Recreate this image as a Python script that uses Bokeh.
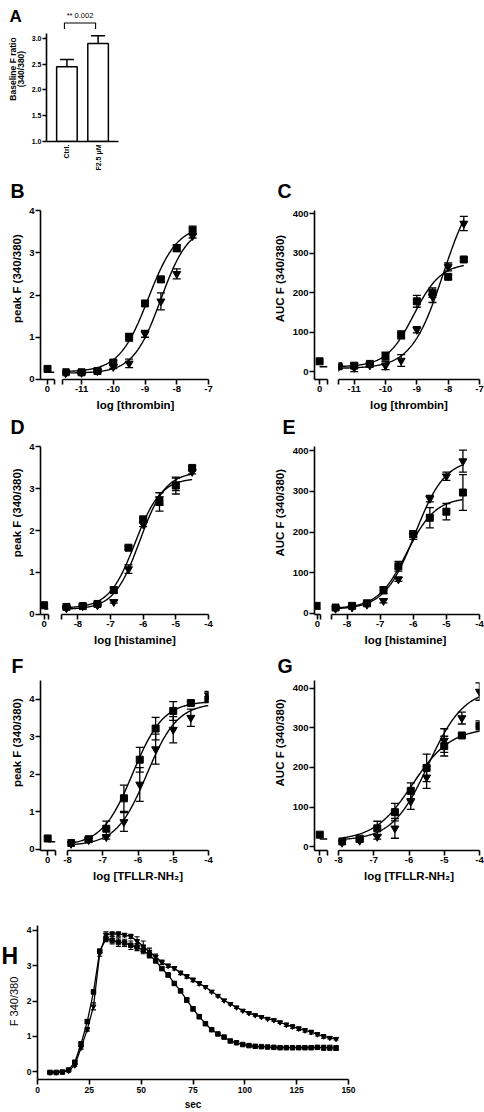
import numpy as np
from bokeh.plotting import figure
from bokeh.layouts import column, row
from bokeh.models import ColumnDataSource, Whisker, TeeHead, Label, FixedTicker, Range1d
from bokeh.core.properties import value
from bokeh.embed import file_html
from bokeh.resources import INLINE

FONT = "Liberation Sans"

# ======================= DATA =======================
# Panel A: baseline ratio
a_categories = ["Ctrl.", "F2.5 μM"]
a_values = [2.45, 2.90]
a_errors = [0.14, 0.15]
a_yticks = [1.0, 1.5, 2.0, 2.5, 3.0]
a_sig_text = "** 0.002"

# Thrombin (B: peak, C: AUC)
thrombin_logc = [-11.5, -11.0, -10.5, -10.0, -9.5, -9.0, -8.5, -8.0, -7.5]
b_sq = [0.17, 0.17, 0.20, 0.40, 1.00, 1.80, 2.37, 3.11, 3.53]
b_sq_err = [0.04, 0.03, 0.03, 0.05, 0.09, 0.06, 0.07, 0.08, 0.10]
b_tri = [0.15, 0.16, 0.20, 0.30, 0.38, 1.08, 1.85, 2.50, 3.40]
b_tri_err = [0.03, 0.03, 0.03, 0.04, 0.10, 0.08, 0.20, 0.12, 0.05]
b_zero_sq, b_zero_tri = 0.25, 0.17
b_fit_sq = [0.18, 3.65, -8.9, 0.95]      # bottom, top, logEC50, hill
b_fit_tri = [0.15, 3.65, -8.5, 1.0]

c_sq = [13.6, 15, 19.5, 39, 93, 178, 200, 240, 284]
c_sq_err = [5, 6, 3, 10, 10, 15, 12, 5, 4]
c_tri = [12, 10, 16, 15, 28, 106, 190, 265, 375]
c_tri_err = [5, 10, 3, 10, 15, 8, 15, 10, 18]
c_zero_sq, c_zero_tri = 26, 12
c_fit_sq = [12, 275, -9.1, 1.0]
c_fit_tri = [8, 490, -8.15, 0.85]

# Histamine (D: peak, E: AUC)
histamine_logc = [-8.35, -7.85, -7.4, -6.9, -6.45, -6.0, -5.5, -5.0, -4.5]
d_sq = [0.18, 0.20, 0.25, 0.58, 1.59, 2.26, 2.68, 3.07, 3.49]
d_sq_err = [0.02, 0.02, 0.03, 0.07, 0.04, 0.08, 0.22, 0.20, 0.05]
d_tri = [0.15, 0.20, 0.22, 0.30, 1.08, 2.15, 2.75, 3.10, 3.40]
d_tri_err = [0.02, 0.02, 0.02, 0.03, 0.10, 0.06, 0.15, 0.15, 0.05]
d_zero_sq, d_zero_tri = 0.22, 0.13
d_fit_sq = [0.15, 3.25, -6.25, 1.1]
d_fit_tri = [0.12, 3.40, -6.1, 1.1]

e_sq = [14.6, 18.7, 25, 57, 116, 195, 235, 250, 297]
e_sq_err = [3, 3, 3, 8, 12, 8, 25, 20, 44]
e_tri = [12, 15, 22, 31, 84, 190, 282, 337, 374]
e_tri_err = [3, 3, 3, 5, 5, 8, 8, 10, 27]
e_zero_sq, e_zero_tri = 18.7, 12
e_fit_sq = [12, 285, -6.2, 1.0]
e_fit_tri = [10, 380, -5.95, 0.95]

# TFLLR-NH2 (F: peak, G: AUC)
tfllr_logc = [-7.9, -7.4, -6.9, -6.4, -5.95, -5.5, -5.0, -4.5, -4.0]
f_sq = [0.17, 0.27, 0.55, 1.36, 2.39, 3.22, 3.69, 3.90, 4.00]
f_sq_err = [0.03, 0.05, 0.20, 0.35, 0.33, 0.30, 0.25, 0.05, 0.07]
f_tri = [0.15, 0.25, 0.33, 0.73, 1.73, 2.67, 3.19, 3.51, 4.11]
f_tri_err = [0.03, 0.04, 0.06, 0.25, 0.45, 0.40, 0.35, 0.23, 0.10]
f_zero_sq, f_zero_tri = 0.29, 0.20
f_fit_sq = [0.10, 3.95, -6.15, 1.0]
f_fit_tri = [0.10, 3.90, -5.75, 1.0]

g_sq = [13, 20, 46, 87, 141, 199, 254, 281, 305]
g_sq_err = [4, 5, 18, 22, 20, 35, 25, 4, 13]
g_tri = [10, 15, 25, 46, 114, 175, 268, 325, 392]
g_tri_err = [4, 4, 6, 25, 20, 28, 30, 15, 22]
g_zero_sq, g_zero_tri = 30, 19
g_fit_sq = [15, 300, -5.9, 0.8]
g_fit_tri = [15, 400, -5.45, 0.85]

# Panel H: time course
h_time = [6, 9, 12, 15, 18, 21, 24, 27, 30, 33,
          36, 39, 42, 45, 48, 51, 54, 57, 60, 63,
          66, 69, 72, 75, 78, 81, 84, 87, 90, 93,
          96, 99, 102, 105, 108, 111, 114, 117, 120, 123,
          126, 129, 132, 135, 138, 141, 144]
h_sq = [-0.02, -0.02, -0.01, 0.05, 0.27, 0.79, 1.42, 2.26, 3.41, 3.76,
        3.72, 3.67, 3.65, 3.58, 3.53, 3.44, 3.30, 3.14, 2.92, 2.74,
        2.50, 2.29, 2.03, 1.78, 1.56, 1.36, 1.19, 1.07, 0.98, 0.87,
        0.82, 0.77, 0.74, 0.72, 0.71, 0.70, 0.69, 0.68, 0.68, 0.68,
        0.68, 0.68, 0.68, 0.69, 0.68, 0.68, 0.67]
h_sq_err = [0.02, 0.02, 0.02, 0.02, 0.03, 0.04, 0.05, 0.05, 0.06, 0.08,
            0.10, 0.12, 0.10, 0.12, 0.10, 0.10, 0.08, 0.06, 0.05, 0.05,
            0.05, 0.05, 0.06, 0.06, 0.06, 0.05, 0.04, 0.03, 0.03, 0.03,
            0.03, 0.03, 0.03, 0.03, 0.03, 0.03, 0.03, 0.03, 0.03, 0.03,
            0.03, 0.03, 0.03, 0.04, 0.07, 0.07, 0.07]
h_tri = [-0.02, -0.02, 0.00, 0.03, 0.18, 0.68, 1.20, 1.85, 3.35, 3.88,
         3.90, 3.90, 3.87, 3.83, 3.70, 3.55, 3.40, 3.25, 3.10, 3.00,
         2.93, 2.80, 2.70, 2.60, 2.50, 2.40, 2.27, 2.15, 2.02, 1.92,
         1.82, 1.73, 1.66, 1.60, 1.55, 1.50, 1.46, 1.40, 1.33, 1.28,
         1.22, 1.17, 1.12, 1.06, 1.00, 0.96, 0.93]
h_tri_err = [0.02, 0.02, 0.02, 0.02, 0.03, 0.04, 0.05, 0.10, 0.08, 0.08,
             0.06, 0.06, 0.05, 0.06, 0.12, 0.15, 0.10, 0.08, 0.06, 0.05,
             0.05, 0.05, 0.05, 0.05, 0.05, 0.03, 0.03, 0.03, 0.03, 0.03,
             0.03, 0.03, 0.03, 0.03, 0.03, 0.03, 0.03, 0.03, 0.05, 0.05,
             0.05, 0.05, 0.05, 0.05, 0.05, 0.03, 0.03]
h_xticks = [0, 25, 50, 75, 100, 125, 150]
h_yticks = [0, 1, 2, 3, 4]

EPS = 1e-3
TICK_SIZE = "9.5px"


# ======================= HELPERS =======================
def logistic(x, p):
    bottom, top, logec50, hill = p
    return bottom + (top - bottom) / (1 + 10 ** ((logec50 - x) * hill))


def style_axis(ax, size=TICK_SIZE, tick_out=5):
    ax.axis_line_width = 1.6
    ax.axis_line_color = "black"
    ax.major_tick_line_width = 1.6
    ax.major_tick_line_color = "black"
    ax.major_tick_in = 0
    ax.major_tick_out = tick_out
    ax.minor_tick_line_color = None
    ax.major_label_text_font = FONT
    ax.major_label_text_font_style = "bold"
    ax.major_label_text_font_size = size
    ax.major_label_text_color = "black"
    ax.major_label_standoff = 1
    ax.axis_label_text_font = FONT
    ax.axis_label_text_font_style = "bold"
    ax.axis_label_text_font_size = "11.5px"
    ax.axis_label_text_color = "black"
    ax.axis_label_standoff = 4


def clean(p):
    p.outline_line_color = None
    p.grid.visible = False
    p.background_fill_color = "white"
    p.border_fill_color = "white"
    return p


def base_fig(width, height, xr, yr, borders, y_axis=True, size=TICK_SIZE, tick_out=5):
    bl, br, bt, bb = borders
    p = figure(width=width, height=height, x_range=xr, y_range=yr,
               output_backend="svg", toolbar_location=None, title=None,
               y_axis_location="left" if y_axis else None,
               min_border_left=bl, min_border_right=br,
               min_border_top=bt, min_border_bottom=bb)
    clean(p)
    for ax in p.axis:
        style_axis(ax, size, tick_out)
    return p


def text_fig(x0, x1, y0, h, items):
    """A blank strip (page-pixel coordinates) that carries panel letters / axis titles."""
    p = figure(width=x1 - x0, height=h, x_range=Range1d(x0, x1), y_range=Range1d(y0 + h, y0),
               x_axis_location=None, y_axis_location=None, output_backend="svg",
               toolbar_location=None, title=None, min_border=0)
    clean(p)
    for it in items:
        p.text(x=[it["x"]], y=[it["y"]], text=[it["text"]], text_font=value(FONT),
               text_font_size=value(f"{it['size']}px"),
               text_font_style="bold" if it.get("bold", True) else "normal",
               angle=it.get("angle", 0.0), text_align=it.get("align", "left"),
               text_baseline="middle", text_color="black")
    return p


def letter(x, cap_bottom, t, size=19.5):
    # vertically centred on the capital letters
    return dict(x=x, y=cap_bottom - 0.36 * size, text=t, size=size)


def vlabel(x, y, t, size=11.5, bold=True):
    return dict(x=x, y=y, text=t, size=size, bold=bold, angle=np.pi / 2, align="center")


def add_err(p, x, y, err, size=8, lw=1.3, lower=True):
    src = ColumnDataSource(dict(base=x,
                                upper=[a + b for a, b in zip(y, err)],
                                lower=[a - b for a, b in zip(y, err)] if lower else list(y)))
    w = Whisker(source=src, base="base", upper="upper", lower="lower",
                line_color="black", line_width=lw,
                upper_head=TeeHead(size=size, line_color="black", line_width=lw),
                lower_head=TeeHead(size=size, line_color="black", line_width=lw) if lower else None)
    p.add_layout(w)


def tick_labels(ticks, unlabeled=()):
    d = {}
    for t in ticks:
        d[t] = str(int(t)) if float(t).is_integer() else str(t)
    for t in unlabeled:
        d[t] = ""
    return d


def dose_panel(g, logc, sq, sq_err, tri, tri_err, zero_sq, zero_tri,
               fit_sq, fit_tri, yr, yticks, xticks, xlabel, ylabel):
    top, height, ftop, fbot = g["row"]
    (tp0, tp1) = g["text_page"]
    (lp0, lp1), (lf0, lf1) = g["left_page"], g["left_frame"]
    (rp0, rp1), (rf0, rf1) = g["right_page"], g["right_frame"]
    bt, bb = ftop - top, top + height - fbot
    lx0, lx1 = g["left_xr"]
    rx0, rx1 = g["right_xr"]
    y0, y1 = yr

    pt = text_fig(tp0, tp1, top, height, [vlabel(g["ylabel_xy"][0], g["ylabel_xy"][1], ylabel)])
    pl = base_fig(lp1 - lp0, height, Range1d(lx0 - EPS, lx1 + EPS),
                  Range1d(y0 - EPS, y1 + EPS), (lf0 - lp0, lp1 - lf1, bt, bb))
    pr = base_fig(rp1 - rp0, height, Range1d(rx0 - EPS, rx1 + EPS),
                  Range1d(y0 - EPS, y1 + EPS), (rf0 - rp0, rp1 - rf1, bt, bb), y_axis=False)

    pl.yaxis.ticker = FixedTicker(ticks=yticks)
    pl.xaxis.ticker = FixedTicker(ticks=[0, lx1])
    pl.xaxis.major_label_overrides = tick_labels([0], [lx1])
    extra = [] if rx0 in xticks else [rx0]
    pr.xaxis.ticker = FixedTicker(ticks=extra + list(xticks))
    pr.xaxis.major_label_overrides = tick_labels(xticks, extra)
    pr.xaxis.axis_label = xlabel

    # zero-dose (control) values on the left segment of the broken axis
    pl.line([0, lx1], [zero_tri, zero_tri], line_color="black", line_width=1.5)
    pl.scatter([0], [zero_sq], marker="square", size=7, color="black")

    # fitted curves
    xs = np.linspace(min(logc), max(logc), 200)
    pr.line(xs, logistic(xs, fit_sq), line_color="black", line_width=1.4)
    pr.line(xs, logistic(xs, fit_tri), line_color="black", line_width=1.4)
    add_err(pr, logc, sq, sq_err)
    add_err(pr, logc, tri, tri_err)
    pr.scatter(logc, sq, marker="square", size=7, color="black")
    pr.scatter(logc, tri, marker="inverted_triangle", size=8, color="black")
    return [pt, pl, pr]


# ======================= PANEL A =======================
a_idx = list(range(len(a_categories)))
pa = base_fig(98, 178, Range1d(-0.655, 1.655), Range1d(a_yticks[0], 3.58),
              (19, 7, 8, 37), size="7px", tick_out=4)
pa.yaxis.bounds = (a_yticks[0], 3.1)
pa.yaxis.ticker = FixedTicker(ticks=a_yticks)
pa.yaxis.major_label_overrides = {t: f"{t:.1f}" for t in a_yticks}
pa.xaxis.ticker = FixedTicker(ticks=a_idx)
pa.xaxis.major_label_overrides = {i: c for i, c in zip(a_idx, a_categories)}
pa.xaxis.major_label_orientation = np.pi / 2
pa.xaxis.major_tick_out = 0
pa.xaxis.major_label_standoff = 3
pa.vbar(x=a_idx, top=a_values, bottom=a_yticks[0], width=0.66,
        fill_color="white", line_color="black", line_width=1.5)
add_err(pa, a_idx, a_values, a_errors, size=14, lw=1.5, lower=False)
shift = -0.08
bx0, bx1 = a_idx[0] + shift, a_idx[1] + shift
by, bleg = 3.30, 3.18
pa.line([bx0, bx0, bx1, bx1], [bleg, by, by, bleg], line_color="black", line_width=1.1)
pa.add_layout(Label(x=(bx0 + bx1) / 2, y=by, y_offset=3, text=a_sig_text,
                    text_font=FONT, text_font_size="7.5px", text_align="center",
                    text_baseline="bottom", text_color="black"))
la = text_fig(0, 27, 0, 178, [letter(9, 16.6, "A", 17),
                              vlabel(12.5, 81, "Baseline F ratio", 8.5),
                              vlabel(20, 81, "(340/380)", 8.5)])

# ======================= PANELS B-G =======================
# (row top, row height, frame top, frame bottom) in page pixels
ROW_BC = (204, 211, 210, 379)
ROW_DE = (440, 213, 446, 614)
ROW_FG = (679, 216, 680, 850)

geo_B = dict(row=ROW_BC, text_page=(0, 26), left_page=(26, 58), left_frame=(39, 54),
             right_page=(58, 240), right_frame=(62, 208), left_xr=(-0.24, 0.24),
             right_xr=(-11.6, -7.0), ylabel_xy=(16.5, 289))
geo_C = dict(row=ROW_BC, text_page=(240, 289), left_page=(289, 332), left_frame=(311, 327),
             right_page=(332, 484), right_frame=(338, 479), left_xr=(-0.2, 0.31),
             right_xr=(-11.5, -7.0), ylabel_xy=(279, 289))
geo_D = dict(row=ROW_DE, text_page=(0, 26), left_page=(26, 52), left_frame=(39, 48),
             right_page=(52, 240), right_frame=(61, 208), left_xr=(-0.13, 0.15),
             right_xr=(-8.5, -4.0), ylabel_xy=(16.5, 524))
geo_E = dict(row=ROW_DE, text_page=(240, 289), left_page=(289, 324), left_frame=(311, 320),
             right_page=(324, 484), right_frame=(331, 479), left_xr=(-0.13, 0.15),
             right_xr=(-8.47, -4.0), ylabel_xy=(279, 524))
geo_F = dict(row=ROW_FG, text_page=(0, 26), left_page=(26, 59), left_frame=(39, 55),
             right_page=(59, 240), right_frame=(67, 208), left_xr=(-0.22, 0.24),
             right_xr=(-8.0, -4.0), ylabel_xy=(16.5, 758))
geo_G = dict(row=ROW_FG, text_page=(240, 289), left_page=(289, 332), left_frame=(311, 327),
             right_page=(332, 484), right_frame=(338, 479), left_xr=(-0.19, 0.28),
             right_xr=(-8.0, -4.0), ylabel_xy=(279, 758))

peak_label = "peak F (340/380)"
auc_label = "AUC F (340/380)"

figs_B = dose_panel(geo_B, thrombin_logc, b_sq, b_sq_err, b_tri, b_tri_err, b_zero_sq, b_zero_tri,
                    b_fit_sq, b_fit_tri, (0, 4), [0, 1, 2, 3, 4], [-11, -10, -9, -8, -7],
                    "log [thrombin]", peak_label)
figs_C = dose_panel(geo_C, thrombin_logc, c_sq, c_sq_err, c_tri, c_tri_err, c_zero_sq, c_zero_tri,
                    c_fit_sq, c_fit_tri, (-20, 408), [0, 100, 200, 300, 400], [-11, -10, -9, -8, -7],
                    "log [thrombin]", auc_label)
figs_D = dose_panel(geo_D, histamine_logc, d_sq, d_sq_err, d_tri, d_tri_err, d_zero_sq, d_zero_tri,
                    d_fit_sq, d_fit_tri, (0, 4), [0, 1, 2, 3, 4], [-8, -7, -6, -5, -4],
                    "log [histamine]", peak_label)
figs_E = dose_panel(geo_E, histamine_logc, e_sq, e_sq_err, e_tri, e_tri_err, e_zero_sq, e_zero_tri,
                    e_fit_sq, e_fit_tri, (-2.5, 410), [0, 100, 200, 300, 400], [-8, -7, -6, -5, -4],
                    "log [histamine]", auc_label)
figs_F = dose_panel(geo_F, tfllr_logc, f_sq, f_sq_err, f_tri, f_tri_err, f_zero_sq, f_zero_tri,
                    f_fit_sq, f_fit_tri, (-0.03, 4.5), [0, 1, 2, 3, 4], [-8, -7, -6, -5, -4],
                    "log [TFLLR-NH₂]", peak_label)
figs_G = dose_panel(geo_G, tfllr_logc, g_sq, g_sq_err, g_tri, g_tri_err, g_zero_sq, g_zero_tri,
                    g_fit_sq, g_fit_tri, (-10, 420), [0, 100, 200, 300, 400], [-8, -7, -6, -5, -4],
                    "log [TFLLR-NH₂]", auc_label)

# letter strips above each row of panels
strip_BC = text_fig(0, 484, 178, 26, [letter(10, 198, "B"), letter(277, 198, "C")])
strip_DE = text_fig(0, 484, 415, 25, [letter(10, 434, "D"), letter(282, 434, "E")])
strip_FG = text_fig(0, 484, 653, 26, [letter(11, 673, "F"), letter(277, 673, "G")])

# ======================= PANEL H =======================
ph = base_fig(340, 217, Range1d(h_xticks[0] - 0.01, h_xticks[-1] + 0.01), Range1d(-0.22, 4.14),
              (17, 12, 30, 32), size="8.5px")
ph.xaxis.ticker = FixedTicker(ticks=h_xticks)
ph.yaxis.ticker = FixedTicker(ticks=h_yticks)
ph.xaxis.major_label_standoff = 2
ph.xaxis.axis_label = "sec"
ph.xaxis.axis_label_text_font_size = "10px"
ph.xaxis.axis_label_standoff = 3
ph.line(h_time, h_tri, line_color="black", line_width=1.3)
ph.line(h_time, h_sq, line_color="black", line_width=1.3)
add_err(ph, h_time, h_tri, h_tri_err, size=5, lw=1.1)
add_err(ph, h_time, h_sq, h_sq_err, size=5, lw=1.1)
ph.scatter(h_time, h_tri, marker="inverted_triangle", size=5, color="black")
ph.scatter(h_time, h_sq, marker="square", size=4.5, color="black")
lh = text_fig(0, 20, 895, 217, [letter(1, 946, "H", 23),
                                vlabel(13.5, 1002, "F 340/380", 11, bold=False)])

layout = column(
    row(la, pa),
    strip_BC,
    row(*figs_B, *figs_C),
    strip_DE,
    row(*figs_D, *figs_E),
    strip_FG,
    row(*figs_F, *figs_G),
    row(lh, ph),
)

open("out.html", "w").write(file_html(layout, INLINE))
